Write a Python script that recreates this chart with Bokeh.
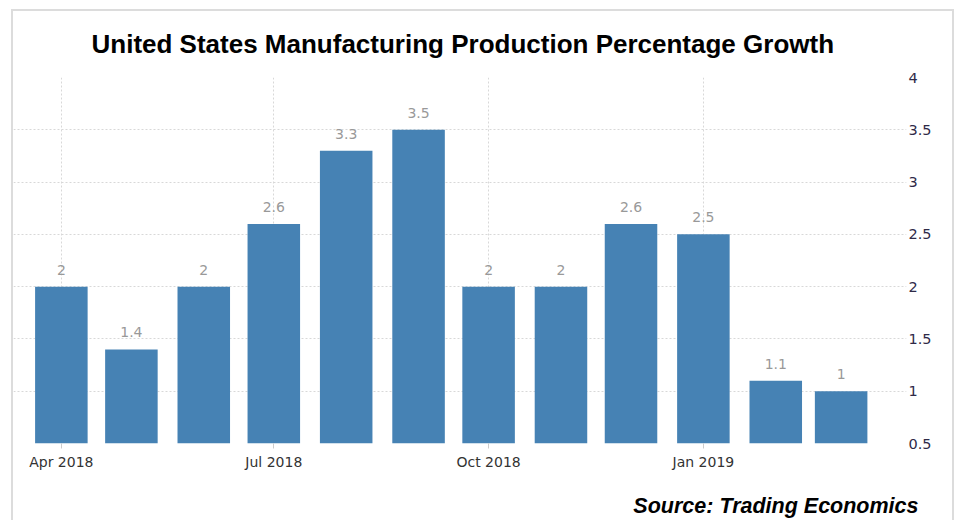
import pandas as pd
from bokeh.plotting import figure
from bokeh.models import ColumnDataSource, FixedTicker, Range1d, Title
from bokeh.core.properties import value
from bokeh.embed import file_html
from bokeh.resources import INLINE

# ---- data ----
months = ["2018-04-01", "2018-05-01", "2018-06-01", "2018-07-01", "2018-08-01", "2018-09-01",
          "2018-10-01", "2018-11-01", "2018-12-01", "2019-01-01", "2019-02-01", "2019-03-01"]
growth = [2, 1.4, 2, 2.6, 3.3, 3.5, 2, 2, 2.6, 2.5, 1.1, 1.0]
x_tick_dates = ["2018-04-01", "2018-07-01", "2018-10-01", "2019-01-01"]
x_tick_labels = ["Apr 2018", "Jul 2018", "Oct 2018", "Jan 2019"]
y_ticks = [0.5, 1, 1.5, 2, 2.5, 3, 3.5, 4]
title_text = "United States Manufacturing Production Percentage Growth"
source_text = "Source: Trading Economics"

def to_ms(d):
    return (pd.Timestamp(d) - pd.Timestamp("1970-01-01")) // pd.Timedelta(milliseconds=1)

src = ColumnDataSource(dict(
    x=[to_ms(m) for m in months],
    top=growth,
    label=[f"{v:g}" for v in growth],
))

DAY = 86400000
FONT = "DejaVu Sans"

p = figure(width=943, height=511, output_backend="svg", toolbar_location=None,
           x_range=Range1d(to_ms("2018-03-11") + DAY // 2, to_ms("2019-03-29")),
           y_range=Range1d(0.5, 4), y_axis_location="right",
           min_border_left=0, min_border_right=50, min_border_top=66, min_border_bottom=78)
p.styles = {"margin-left": "11px", "margin-top": "9px",
            "border-left": "2px solid #dcdcdc", "border-top": "2px solid #dcdcdc",
            "border-right": "2px solid #dcdcdc"}
p.outline_line_color = None

p.vbar(x="x", top="top", bottom=0.5, width=22.5 * DAY, source=src,
       fill_color="#4682b4", line_color=None)
p.text(x="x", y="top", text="label", source=src, text_align="center",
       text_baseline="bottom", y_offset=-12, text_color="#999999",
       text_font=value(FONT), text_font_size="14px")

xt = [to_ms(d) for d in x_tick_dates]
p.xaxis.ticker = FixedTicker(ticks=xt)
p.xaxis.major_label_overrides = dict(zip(xt, x_tick_labels))
p.xgrid.ticker = FixedTicker(ticks=xt)
p.xaxis.axis_line_color = None
p.xaxis.major_tick_line_color = "#cccccc"
p.xaxis.major_tick_out = 5
p.xaxis.major_tick_in = 0
p.xaxis.minor_tick_line_color = None
p.xaxis.major_label_standoff = 5
p.xaxis.major_label_text_font = FONT
p.xaxis.major_label_text_font_size = "14px"
p.xaxis.major_label_text_color = "#333333"

p.yaxis.ticker = FixedTicker(ticks=y_ticks)
p.yaxis.major_label_overrides = {t: f"{t:g}" for t in y_ticks}
p.yaxis.axis_line_color = None
p.yaxis.major_tick_line_color = None
p.yaxis.minor_tick_line_color = None
p.yaxis.major_label_standoff = -4
p.yaxis.major_label_text_font = FONT
p.yaxis.major_label_text_font_size = "14.5px"
p.yaxis.major_label_text_color = "#2f2a48"

for g in (p.xgrid, p.ygrid):
    g.grid_line_color = "#d8d8d8"
    g.grid_line_dash = "2 2"
    g.grid_line_width = 1

p.add_layout(Title(text=title_text, align="left", vertical_align="top", offset=78,
                   text_font="Liberation Sans", text_font_style="bold",
                   text_font_size="26px", text_color="black", standoff=34), "above")
# thin spacer between the x axis and the source note
p.add_layout(Title(text=" ", text_font_size="1px", standoff=11), "below")
p.add_layout(Title(text=source_text, align="right", offset=-12,
                   text_font="Liberation Sans", text_font_style="bold italic",
                   text_font_size="21.5px", text_color="black", standoff=10), "below")

open("out.html", "w").write(file_html(p, INLINE))
